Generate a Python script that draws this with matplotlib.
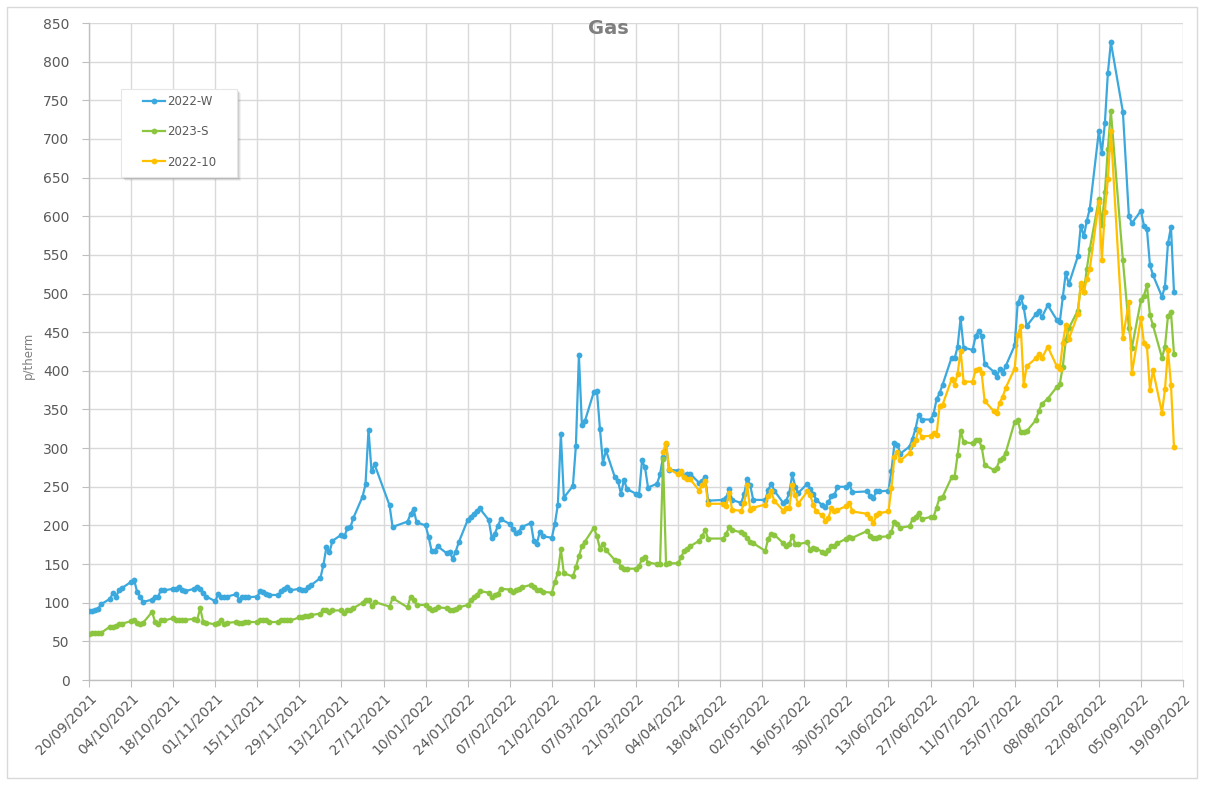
import matplotlib
matplotlib.use("Agg")
import matplotlib.pyplot as plt
import matplotlib.dates as mdates
from matplotlib.lines import Line2D
from matplotlib.patches import Rectangle
from matplotlib.ticker import FixedLocator
import numpy as np
import pandas as pd

# ---------------- data ----------------
start_date = "2021-09-20"
end_date = "2022-09-19"

# trading days, as offsets (in days) from start_date
day_offsets = [0, 1, 2, 3, 4, 7, 8, 9, 10, 11, 14, 15, 16, 17, 18, 21, 22, 23, 24, 25,
               28, 29, 30, 31, 32, 35, 36, 37, 38, 39, 42, 43, 44, 45, 46, 49, 50, 51, 52, 53,
               56, 57, 58, 59, 60, 63, 64, 65, 66, 67, 70, 71, 72, 73, 74, 77, 78, 79, 80, 81,
               84, 85, 86, 87, 88, 91, 92, 93, 94, 95, 100, 101, 106, 107, 108, 109,
               112, 113, 114, 115, 116, 119, 120, 121, 122, 123, 126, 127, 128, 129, 130,
               133, 134, 135, 136, 137, 140, 141, 142, 143, 144, 147, 148, 149, 150, 151,
               154, 155, 156, 157, 158, 161, 162, 163, 164, 165, 168, 169, 170, 171, 172,
               175, 176, 177, 178, 179, 182, 183, 184, 185, 186, 189, 190,
               191, 192, 193, 196, 197, 198, 199, 200, 203, 204, 205, 206, 211, 212, 213, 214,
               217, 218, 219, 220, 221, 225, 226, 227, 228, 231, 232, 233, 234, 235, 236,
               239, 240, 241, 242, 244, 245, 246, 247, 248, 249, 252, 253, 254,
               259, 260, 261, 262, 263, 266, 267, 268, 269, 270, 273, 274, 275, 276, 277,
               280, 281, 282, 283, 284, 287, 288, 289, 290, 291, 294, 295, 296, 297, 298,
               301, 302, 303, 304, 305, 308, 309, 310, 311, 312, 315, 316, 317, 319,
               322, 323, 324, 325, 326, 329, 330, 331, 332, 333, 336, 337, 338, 339, 340,
               344, 346, 347, 350, 351, 352, 353, 354, 357, 358, 359, 360, 361]

gas_2022_w = [89, 89, 90, 92, 98, 105, 113, 108, 116, 119, 127, 130, 114, 108, 101,
              104, 108, 108, 117, 116, 118, 118, 120, 116, 115, 118, 120, 118, 113, 108,
              102, 111, 108, 108, 108, 111, 104, 107, 107, 107, 108, 115, 114, 111, 110,
              110, 115, 118, 120, 116, 118, 117, 117, 120, 123, 132, 149, 172, 165, 180,
              188, 186, 197, 198, 210, 237, 253, 324, 270, 279, 226, 198,
              205, 215, 221, 204, 200, 185, 167, 167, 173, 164, 165, 157, 166, 178,
              207, 211, 215, 219, 222, 207, 184, 189, 199, 208, 202, 196, 190, 192, 198,
              203, 180, 176, 192, 186, 184, 202, 227, 318, 236, 251, 303, 420, 330, 335,
              373, 374, 325, 281, 297, 262, 257, 241, 259, 247, 241, 239, 284, 275, 249,
              254, 266,
              289, 305, 272, 271, 269, 264, 267, 267, 255, 258, 262, 232, 233, 236, 247, 233,
              229, 241, 260, 252, 233, 233, 246, 254, 245, 229, 232, 242, 266, 250, 242,
              254, 247, 241, 233, 226, 224, 230, 238, 239, 250, 250, 253, 243,
              244, 238, 236, 244, 244, 245, 271, 306, 304, 293, 302, 312, 325, 343, 337,
              337, 344, 363, 371, 382, 417, 416, 431, 468, 430, 427, 445, 451, 445, 409,
              399, 392, 402, 397, 406, 433, 488, 496, 482, 458, 473, 478, 469, 485,
              466, 463, 495, 527, 512, 548, 588, 574, 594, 610, 710, 682, 720, 785, 825,
              735, 600, 591, 607, 588, 583, 537, 524, 496, 509, 565, 586, 502]

gas_2023_s = [60, 61, 61, 61, 61, 69, 69, 70, 72, 73, 76, 78, 74, 73, 74,
              88, 75, 73, 77, 77, 80, 78, 78, 77, 78, 79, 78, 93, 75, 74,
              72, 74, 77, 73, 74, 75, 74, 74, 75, 75, 75, 77, 78, 77, 75,
              75, 77, 78, 77, 77, 81, 82, 83, 83, 84, 86, 90, 90, 88, 90,
              90, 87, 91, 91, 93, 100, 104, 104, 96, 101, 95, 106,
              94, 108, 104, 97, 97, 93, 91, 92, 94, 93, 91, 91, 92, 94,
              97, 103, 107, 110, 115, 113, 107, 110, 111, 118, 117, 114, 116, 118, 120,
              123, 120, 116, 116, 114, 113, 127, 139, 169, 138, 134, 146, 160, 173, 179,
              197, 186, 170, 176, 168, 155, 154, 146, 144, 144, 144, 147, 157, 159, 152,
              150, 150,
              286, 150, 151, 151, 159, 167, 169, 173, 180, 186, 194, 183, 183, 189, 198, 194,
              191, 189, 184, 179, 177, 167, 183, 189, 188, 177, 174, 176, 186, 176, 176,
              178, 168, 171, 170, 166, 164, 168, 173, 174, 177, 183, 185, 184,
              193, 186, 184, 184, 185, 186, 192, 205, 202, 197, 199, 208, 211, 216, 208,
              211, 211, 223, 236, 237, 262, 263, 291, 322, 308, 306, 311, 310, 302, 278,
              272, 274, 285, 287, 294, 334, 336, 321, 321, 322, 336, 348, 357, 364,
              379, 383, 405, 440, 455, 478, 510, 502, 532, 558, 622, 589, 631, 687, 736,
              543, 456, 430, 491, 497, 511, 472, 459, 417, 431, 471, 476, 422]

# 2022-10 is quoted only on the last len(gas_2022_10) trading days
gas_2022_10 = [295, 307, 273, 266, 271, 262, 260, 260, 245, 252, 257, 228, 228, 225, 242, 220,
               219, 229, 252, 220, 223, 227, 238, 244, 232, 219, 222, 223, 252, 239, 228,
               244, 239, 226, 218, 213, 206, 210, 222, 218, 220, 225, 229, 218,
               215, 209, 203, 213, 216, 218, 249, 289, 295, 284, 294, 305, 310, 323, 315,
               316, 320, 317, 354, 356, 389, 382, 396, 426, 386, 386, 401, 403, 397, 361,
               348, 345, 359, 366, 378, 403, 446, 458, 382, 406, 416, 422, 416, 431,
               406, 402, 436, 459, 441, 473, 514, 502, 519, 532, 619, 544, 606, 648, 710,
               443, 489, 397, 468, 436, 432, 375, 401, 346, 376, 427, 382, 301]

series_names = ["2022-W", "2023-S", "2022-10"]
series_colors = ["#3BA8DE", "#8CC63F", "#FFC000"]
title = "Gas"
y_label = "p/therm"

assert len(day_offsets) == len(gas_2022_w) == len(gas_2023_s)

# ---------------- figure ----------------
W, H = 1205, 785
fig = plt.figure(figsize=(W / 100, H / 100), dpi=100)
fig.patch.set_facecolor("white")

L, R, T, B = 89, 1183, 23, 680
ax = fig.add_axes([L / W, 1 - B / H, (R - L) / W, (B - T) / H])

start = pd.Timestamp(start_date)
dates = start + pd.to_timedelta(day_offsets, unit="D")
dates_10 = dates[len(dates) - len(gas_2022_10):]

series = [(dates, gas_2022_w), (dates, gas_2023_s), (dates_10, gas_2022_10)]
for i, ((d, v), name, col) in enumerate(zip(series, series_names, series_colors)):
    ax.plot(d, v, color=col, lw=1.6, marker="o", markersize=4.2,
            markeredgewidth=0, label=name, zorder=3 + i)

ax.set_ylim(0, 850)
ax.set_yticks(np.arange(0, 851, 50))
ax.set_xlim(mdates.date2num(start), mdates.date2num(pd.Timestamp(end_date)))
xticks = pd.date_range(start, pd.Timestamp(end_date), freq="14D")
ax.xaxis.set_major_locator(FixedLocator(mdates.date2num(xticks)))
ax.xaxis.set_major_formatter(mdates.DateFormatter("%d/%m/%Y"))

ax.grid(True, color="#D9D9D9", lw=1, zorder=0)
ax.set_axisbelow(True)
for s in ["top", "right"]:
    ax.spines[s].set_visible(False)
for s in ["left", "bottom"]:
    ax.spines[s].set_color("#BFBFBF")
    ax.spines[s].set_linewidth(1)

ax.tick_params(axis="y", colors="#BFBFBF", labelcolor="#595959", labelsize=10,
               length=5, pad=9)
ax.tick_params(axis="x", colors="#BFBFBF", labelcolor="#595959", labelsize=10,
               length=5, pad=3)
for lab in ax.get_xticklabels():
    lab.set_rotation(45)
    lab.set_ha("right")
    lab.set_va("top")
    lab.set_rotation_mode("anchor")

fig.text(608 / W, 1 - 28 / H, title, ha="center", va="center",
         fontsize=14, fontweight="bold", color="#7F7F7F")
fig.text(28 / W, 1 - 355 / H, y_label, ha="center", va="center",
         rotation=90, fontsize=8.5, color="#7F7F7F")

# legend box with soft shadow
lx0, ly0, lx1, ly1 = 121, 89, 237, 177
for k, a in [(4, 0.10), (3, 0.15), (2, 0.2)]:
    fig.patches.append(Rectangle(((lx0 + k) / W, 1 - (ly1 + k) / H),
                                 (lx1 - lx0) / W, (ly1 - ly0) / H,
                                 transform=fig.transFigure, facecolor="#808080",
                                 edgecolor="none", alpha=a, zorder=8))
fig.patches.append(Rectangle((lx0 / W, 1 - ly1 / H), (lx1 - lx0) / W, (ly1 - ly0) / H,
                             transform=fig.transFigure, facecolor="white",
                             edgecolor="#E6E6E6", lw=0.8, zorder=9))
handles = [Line2D([], [], color=c, lw=1.6, marker="o", markersize=4.2,
                  markeredgewidth=0) for c in series_colors]
leg = fig.legend(handles, series_names, loc="upper left",
                 bbox_to_anchor=(141 / W, 1 - 93 / H), bbox_transform=fig.transFigure,
                 frameon=False, fontsize=8.5, handlelength=1.8, handletextpad=0.2,
                 labelspacing=1.45, borderpad=0.2, borderaxespad=0)
leg.set_zorder(10)
for t in leg.get_texts():
    t.set_color("#595959")

# outer chart border
fig.patches.append(Rectangle((7 / W, 1 - 778 / H), 1190 / W, 771 / H,
                             transform=fig.transFigure, fill=False,
                             edgecolor="#D9D9D9", lw=1, zorder=0))

fig.savefig("out.png", dpi=100)
